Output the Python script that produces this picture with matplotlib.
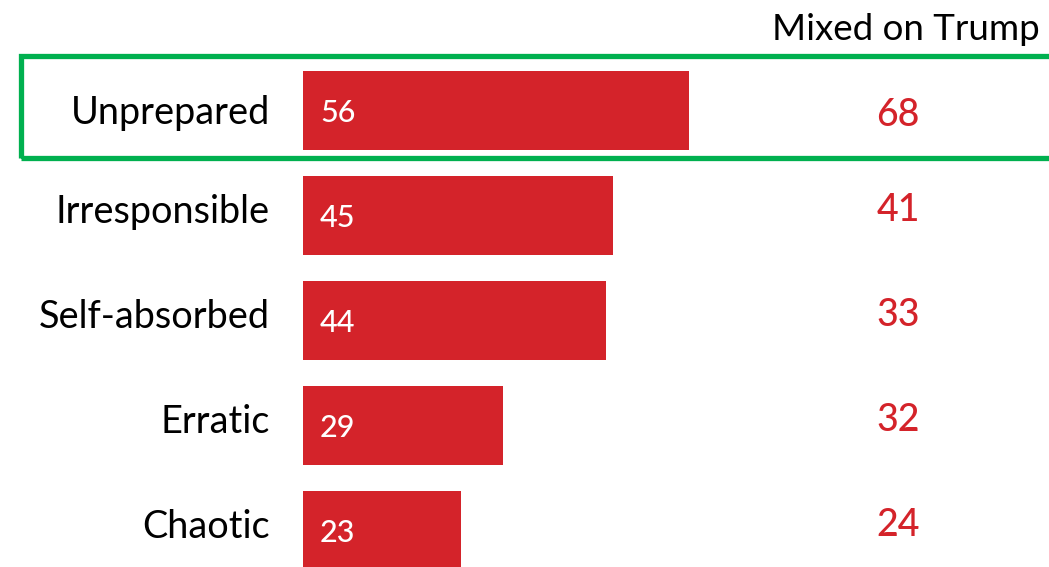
import matplotlib
matplotlib.use("Agg")
import matplotlib.pyplot as plt
from matplotlib.patches import Rectangle

categories = ["Unprepared", "Irresponsible", "Self-absorbed", "Erratic", "Chaotic"]
bar_values = [56, 45, 44, 29, 23]
mixed_values = [68, 41, 33, 32, 24]
column_title = "Mixed on Trump"

RED = "#d4232a"
GREEN = "#00b04f"
FONT = ["Lato", "DejaVu Sans"]

W, H = 1049, 567
fig = plt.figure(figsize=(W / 100, H / 100), dpi=100)
ax = fig.add_axes([0, 0, 1, 1])

px_per_unit = 6.89
x0 = 303
ax.set_xlim(-x0 / px_per_unit, (W - x0) / px_per_unit)
pitch = 105
c0 = 110.5
ax.set_ylim((H - c0) / pitch, -c0 / pitch)
ax.axis("off")

ypos = list(range(len(categories)))
ax.barh(ypos, bar_values, height=0.752, color=RED, edgecolor="none")

for i, (cat, v, m) in enumerate(zip(categories, bar_values, mixed_values)):
    dl = 13.5 if i == 0 else 7.0
    ax.text(-33 / px_per_unit, i + dl / pitch, cat, ha="right", va="baseline",
            fontsize=27.3, family=FONT, color="black")
    ax.text(17 / px_per_unit, i + 11.5 / pitch, str(v), ha="left", va="baseline",
            fontsize=22, family=FONT, color="white", fontweight="medium")
    dm = 16.0 if i == 0 else 5.5
    ax.text((898 - x0) / px_per_unit, i + dm / pitch, str(m), ha="center", va="baseline",
            fontsize=27, family=FONT, color=RED, fontweight="medium")

ax.text(1040 / W, 1 - 40 / H, column_title, transform=ax.transAxes,
        ha="right", va="baseline", fontsize=26.5, family=FONT, color="black")

rect = Rectangle((21 / W, 1 - 157.5 / H), 1.2, (157.5 - 56) / H,
                 transform=ax.transAxes, fill=False, edgecolor=GREEN,
                 linewidth=3.8, clip_on=False)
ax.add_patch(rect)

fig.savefig("out.png", dpi=100)
